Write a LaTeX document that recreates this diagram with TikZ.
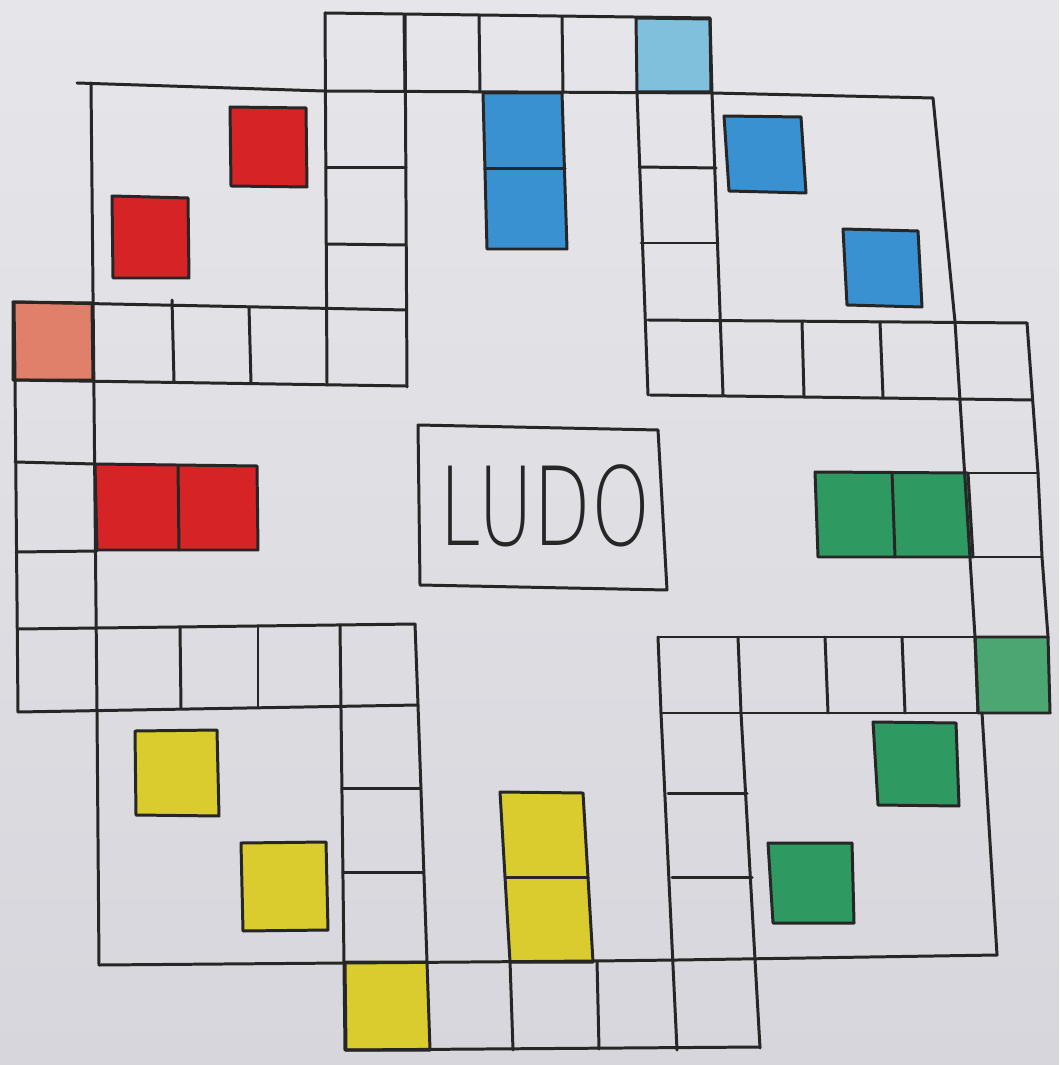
\documentclass[tikz,border=0pt]{standalone}
\usepackage{graphicx}
\usepackage{fontspec}
\newfontfamily\ludofont{DejaVu Sans ExtraLight}
\usetikzlibrary{calc}

% Colours of the board
\definecolor{paperhi}{RGB}{230,230,234}
\definecolor{paperlo}{RGB}{214,214,220}
\definecolor{ludored}{RGB}{214,36,38}
\definecolor{ludosalmon}{RGB}{224,128,106}
\definecolor{ludoblue}{RGB}{58,145,210}
\definecolor{ludosky}{RGB}{128,192,220}
\definecolor{ludogreen}{RGB}{46,154,98}
\definecolor{ludomint}{RGB}{76,166,114}
\definecolor{ludoyellow}{RGB}{218,204,46}

\begin{document}
\begin{tikzpicture}[x=0.1mm,y=-0.1mm,line join=round,line cap=round,
  grid/.style={line width=0.85pt,draw=black!85},
  token/.style={line width=0.85pt,draw=black!85}]

  % Paper
  \shade[top color=paperhi,bottom color=paperlo] (0,0) rectangle (1059,1065);
  \useasboundingbox (0,0) rectangle (1059,1065);

  % Start cells
  \filldraw[token,fill=ludosalmon] (13,302) -- (92,303) -- (93,380) -- (13,380) -- cycle;
  \filldraw[token,fill=ludosky] (636,18) -- (710,19) -- (711,92) -- (637,92) -- cycle;
  \filldraw[token,fill=ludomint] (975,637) -- (1048,637) -- (1050,713) -- (978,713) -- cycle;
  \filldraw[token,fill=ludoyellow] (345,962) -- (427,962) -- (430,1050) -- (346,1050) -- cycle;

  % Home columns
  \filldraw[token,fill=ludored] (95,464) -- (257,466) -- (258,550) -- (97,550) -- cycle;
  \draw[grid] (178,465) -- (179,550);
  \filldraw[token,fill=ludoblue] (483,93) -- (562,93) -- (567,249) -- (487,249) -- cycle;
  \draw[grid] (485,169) -- (565,169);
  \filldraw[token,fill=ludogreen] (815,472) -- (968,473) -- (973,557) -- (818,557) -- cycle;
  \draw[grid] (892,472) -- (895,557);
  \filldraw[token,fill=ludoyellow] (500,792) -- (583,793) -- (593,962) -- (510,962) -- cycle;
  \draw[grid] (505,877) -- (588,877);

  % Tokens in the yards
  \filldraw[token,fill=ludored] (230,107) -- (306,108) -- (307,187) -- (231,186) -- cycle;
  \filldraw[token,fill=ludored] (112,196) -- (188,198) -- (189,278) -- (113,278) -- cycle;
  \filldraw[token,fill=ludoblue] (724,116) -- (801,117) -- (806,193) -- (729,191) -- cycle;
  \filldraw[token,fill=ludoblue] (843,229) -- (918,231) -- (922,307) -- (847,305) -- cycle;
  \filldraw[token,fill=ludogreen] (873,722) -- (956,723) -- (959,806) -- (878,805) -- cycle;
  \filldraw[token,fill=ludogreen] (768,843) -- (852,843) -- (854,923) -- (773,923) -- cycle;
  \filldraw[token,fill=ludoyellow] (135,731) -- (217,730) -- (219,816) -- (136,815) -- cycle;
  \filldraw[token,fill=ludoyellow] (241,843) -- (326,842) -- (328,930) -- (243,931) -- cycle;

  % Top arm
  \draw[grid] (325,13) -- (710,18) -- (712,93) -- (723,395);
  \draw[grid] (77,83) -- (323,91) -- (712,93) -- (933,98) -- (955,322) -- (975,637) -- (978,713);
  \draw[grid] (404,15) -- (405,91);
  \draw[grid] (479,16) -- (480,92);
  \draw[grid] (562,17) -- (563,92);
  \draw[grid] (325,13) -- (327,385);
  \draw[grid] (405,15) -- (407,387);
  \draw[grid] (326,168) -- (406,168);
  \draw[grid] (326,244) -- (406,245);
  \draw[grid] (637,92) -- (648,395);
  \draw[grid] (639,167) -- (716,168);
  \draw[grid] (641,243) -- (718,243);

  % Left arm
  \draw[grid] (13,302) -- (406,310);
  \draw[grid] (13,380) -- (407,386);
  \draw[grid] (172,300) -- (174,381);
  \draw[grid] (249,307) -- (251,383);
  \draw[grid] (14,302) -- (15,380) -- (18,712);
  \draw[grid] (91,83) -- (97,712) -- (99,965);
  \draw[grid] (15,462) -- (95,464);
  \draw[grid] (16,552) -- (97,551);
  \draw[grid] (18,629) -- (415,624);
  \draw[grid] (18,712) -- (418,705);
  \draw[grid] (180,627) -- (181,708);
  \draw[grid] (258,626) -- (258,707);

  % Right arm
  \draw[grid] (648,320) -- (1027,323);
  \draw[grid] (650,395) -- (1032,400);
  \draw[grid] (802,322) -- (804,396);
  \draw[grid] (880,322) -- (883,397);
  \draw[grid] (1027,323) -- (1038,473) -- (1042,557) -- (1048,637);
  \draw[grid] (968,473) -- (1038,473);
  \draw[grid] (973,557) -- (1042,557);
  \draw[grid] (658,637) -- (1048,637);
  \draw[grid] (661,713) -- (1050,713);
  \draw[grid] (658,637) -- (661,713);
  \draw[grid] (738,637) -- (741,713);
  \draw[grid] (825,637) -- (828,713);
  \draw[grid] (902,637) -- (905,713);
  \draw[grid] (982,713) -- (997,955);

  % Bottom arm
  \draw[grid] (99,965) -- (345,963) -- (593,961) -- (677,960) -- (997,955);
  \draw[grid] (340,625) -- (345,1050);
  \draw[grid] (415,624) -- (418,705) -- (427,962);
  \draw[grid] (342,788) -- (421,788);
  \draw[grid] (343,872) -- (423,872);
  \draw[grid] (661,713) -- (677,1050);
  \draw[grid] (741,713) -- (760,1048);
  \draw[grid] (668,793) -- (747,793);
  \draw[grid] (672,877) -- (752,877);
  \draw[grid] (345,1050) -- (760,1047);
  \draw[grid] (510,961) -- (513,1050);
  \draw[grid] (597,961) -- (599,1049);

  % Centre box
  \draw[grid] (418,425) -- (658,430) -- (667,590) -- (420,585) -- cycle;
  \node[font=\fontsize{31}{31}\selectfont\ludofont,text=black!85] (title) at (545,506)
    {\scalebox{0.69}[1]{LUDO}};

\end{tikzpicture}
\end{document}
